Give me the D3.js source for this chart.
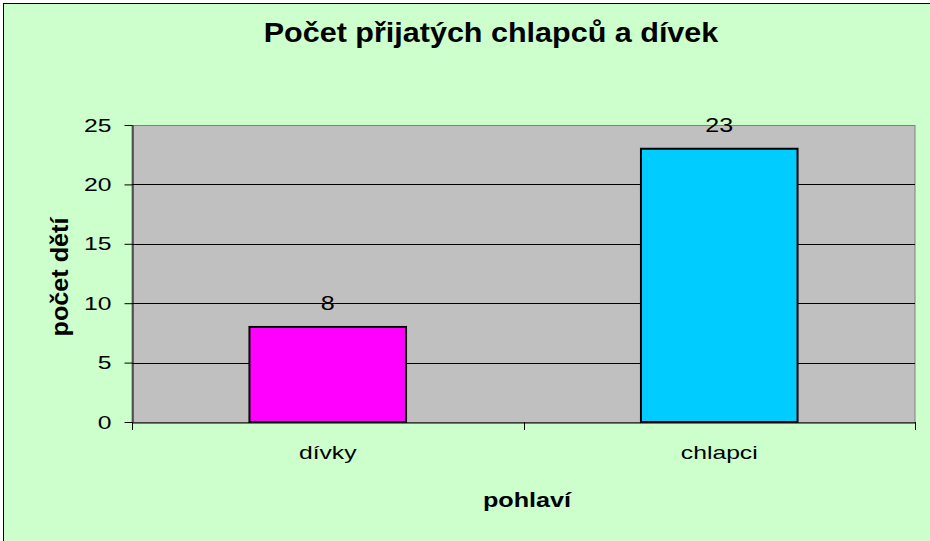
<!DOCTYPE html>
<html><head><meta charset="utf-8">
<script src="https://cdn.jsdelivr.net/npm/d3@7"></script>
<style>body{margin:0;background:#fff}svg{display:block}</style>
</head><body>
<script>
const categories = ["dívky", "chlapci"];
const values = [8, 23];
const barColors = ["#FF00FF", "#00CCFF"];
const yTicks = [0, 5, 10, 15, 20, 25];
const title = "Počet přijatých chlapců a dívek";
const xTitle = "pohlaví";
const yTitle = "počet dětí";

const W = 930, H = 541;
const FONT = "Liberation Sans, Arial, sans-serif";
const m = {left: 132, right: 915, top: 125, bottom: 422};
const svg = d3.select("body").append("svg").attr("width", W).attr("height", H);
svg.append("rect").attr("x", 0).attr("y", 0).attr("width", W).attr("height", H).attr("fill", "#fff");
svg.append("rect").attr("x", 3.5).attr("y", 3.5).attr("width", W + 10).attr("height", H + 10)
  .attr("fill", "#CCFFCC").attr("stroke", "#000").attr("stroke-width", 1);

// horizontal stretch factor of the reference's lettering
const STRETCH = 1.28;
function stretch(sel, k) {
  sel.each(function () {
    const w = this.getComputedTextLength();
    d3.select(this).attr("textLength", w * (k || STRETCH)).attr("lengthAdjust", "spacingAndGlyphs");
  });
}

const x = d3.scaleBand().domain(categories).range([m.left, m.right]).paddingInner(0.6).paddingOuter(0.3);
const xb = d3.scaleBand().domain(categories).range([m.left, m.right]);
const y = d3.scaleLinear().domain([0, 25]).range([m.bottom, m.top]);

svg.append("rect").attr("x", m.left).attr("y", m.top + 0.5).attr("width", m.right - m.left).attr("height", m.bottom - m.top)
  .attr("fill", "#C0C0C0").attr("stroke", "#808080").attr("stroke-width", 1);

svg.append("g").selectAll("line").data(yTicks.filter(d => d > 0 && d < 25)).join("line")
  .attr("x1", m.left).attr("x2", m.right).attr("y1", d => Math.round(y(d)) + 0.5).attr("y2", d => Math.round(y(d)) + 0.5)
  .attr("stroke", "#000").attr("stroke-width", 1);

svg.append("g").selectAll("rect").data(values).join("rect")
  .attr("x", (d, i) => x(categories[i])).attr("width", x.bandwidth())
  .attr("y", d => y(d)).attr("height", d => y(0) - y(d))
  .attr("fill", (d, i) => barColors[i]).attr("stroke", "#000").attr("stroke-width", 2);

const yAxis = svg.append("g").attr("transform", `translate(${m.left + 0.5},0)`)
  .call(d3.axisLeft(y).tickValues(yTicks).tickSize(8).tickSizeOuter(0));
yAxis.select(".domain").attr("stroke", "#000");
yAxis.selectAll("text").attr("font-family", FONT).attr("font-size", 19).attr("fill", "#000").attr("x", -21).call(stretch, 1.3);

const xAxis = svg.append("g").attr("transform", `translate(0,${m.bottom + 0.5})`)
  .call(d3.axisBottom(xb).tickSize(0).tickSizeOuter(0));
xAxis.select(".domain").attr("stroke", "#000");
xAxis.selectAll("text").attr("font-family", FONT).attr("font-size", 19).attr("fill", "#000")
  .attr("y", 36).attr("dy", 0).call(stretch, 1.3);
svg.append("g").selectAll("line").data([m.left, xb(categories[1]), m.right]).join("line")
  .attr("x1", d => Math.round(d) + 0.5).attr("x2", d => Math.round(d) + 0.5).attr("y1", m.bottom).attr("y2", m.bottom + 8)
  .attr("stroke", "#000");

svg.append("g").selectAll("text").data(values).join("text")
  .attr("x", (d, i) => x(categories[i]) + x.bandwidth() / 2).attr("y", d => y(d) - 17)
  .attr("text-anchor", "middle").attr("font-family", FONT).attr("font-size", 20)
  .text(d => d).call(stretch, 1.25);

svg.append("text").attr("x", 491).attr("y", 42).attr("text-anchor", "middle")
  .attr("font-family", FONT).attr("font-weight", "bold").attr("font-size", 28).text(title).call(stretch, 1.09);
svg.append("text").attr("x", 527).attr("y", 507).attr("text-anchor", "middle")
  .attr("font-family", FONT).attr("font-weight", "bold").attr("font-size", 21).text(xTitle).call(stretch, 1.2);
svg.append("text").attr("transform", "translate(68,277) rotate(-90)").attr("text-anchor", "middle")
  .attr("font-family", FONT).attr("font-weight", "bold").attr("font-size", 24).text(yTitle).call(stretch, 1.05);
</script>
</body></html>
